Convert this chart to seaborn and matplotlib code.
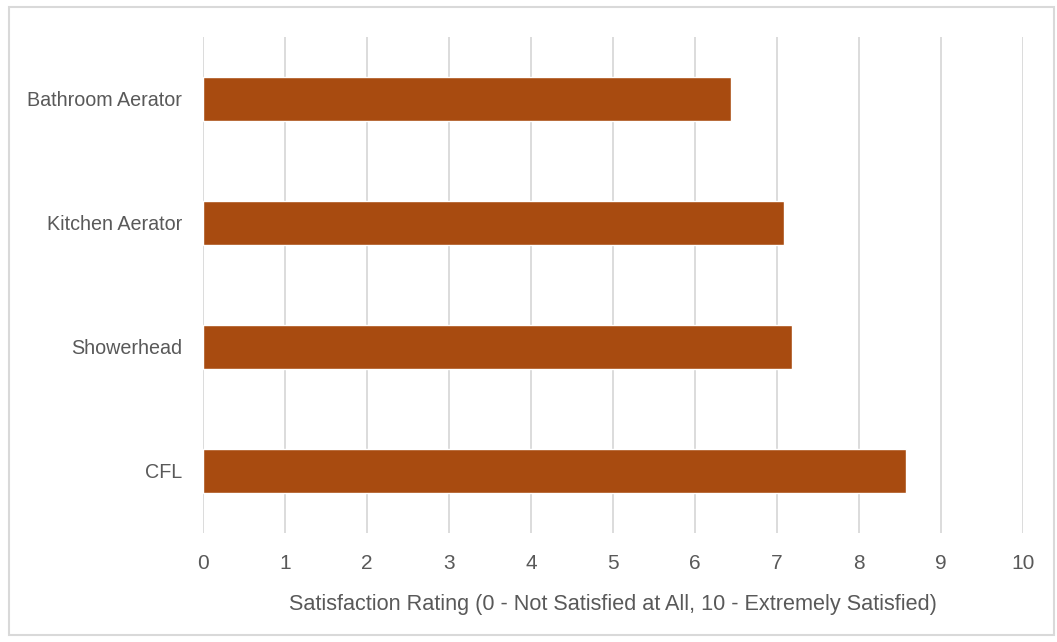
import matplotlib
matplotlib.use("Agg")
import matplotlib.pyplot as plt
from matplotlib.patches import Rectangle
import seaborn as sns
import pandas as pd

# Mean satisfaction ratings per installed measure
measures = ["Bathroom Aerator", "Kitchen Aerator", "Showerhead", "CFL"]
ratings = [6.44, 7.08, 7.18, 8.57]
x_ticks = list(range(0, 11))
x_label = "Satisfaction Rating (0 - Not Satisfied at All, 10 - Extremely Satisfied)"

df = pd.DataFrame({"measure": measures, "rating": ratings})

sns.set_theme(style="white")
plt.rcParams["font.family"] = ["Liberation Sans", "DejaVu Sans"]

fig = plt.figure(figsize=(10.57, 6.42), dpi=100)
ax = fig.add_axes([203 / 1057, 1 - 533 / 642, 820 / 1057, 496 / 642])

sns.barplot(data=df, x="rating", y="measure", order=measures, color="#A84B10",
            saturation=1, width=0.355, ax=ax, orient="h")

ax.set_xlim(0, 10)
ax.set_xticks(x_ticks)
ax.set_xticklabels([str(t) for t in x_ticks])
ax.xaxis.grid(True, color="#D9D9D9", linewidth=1.3)
ax.yaxis.grid(False)
ax.set_axisbelow(True)
for s in ax.spines.values():
    s.set_visible(False)
ax.tick_params(axis="both", length=0, colors="#595959")
ax.tick_params(axis="x", pad=15, labelsize=15)
ax.tick_params(axis="y", pad=15, labelsize=14.2)
ax.set_ylabel("")
ax.set_xlabel(x_label, fontsize=15.6, color="#595959", labelpad=15)

# Chart frame
fig.patches.append(Rectangle((9 / 1057, 7 / 642), 1045 / 1057, 628 / 642,
                             transform=fig.transFigure, fill=False,
                             edgecolor="#D9D9D9", linewidth=1.5))

fig.savefig("out.png", dpi=100)
